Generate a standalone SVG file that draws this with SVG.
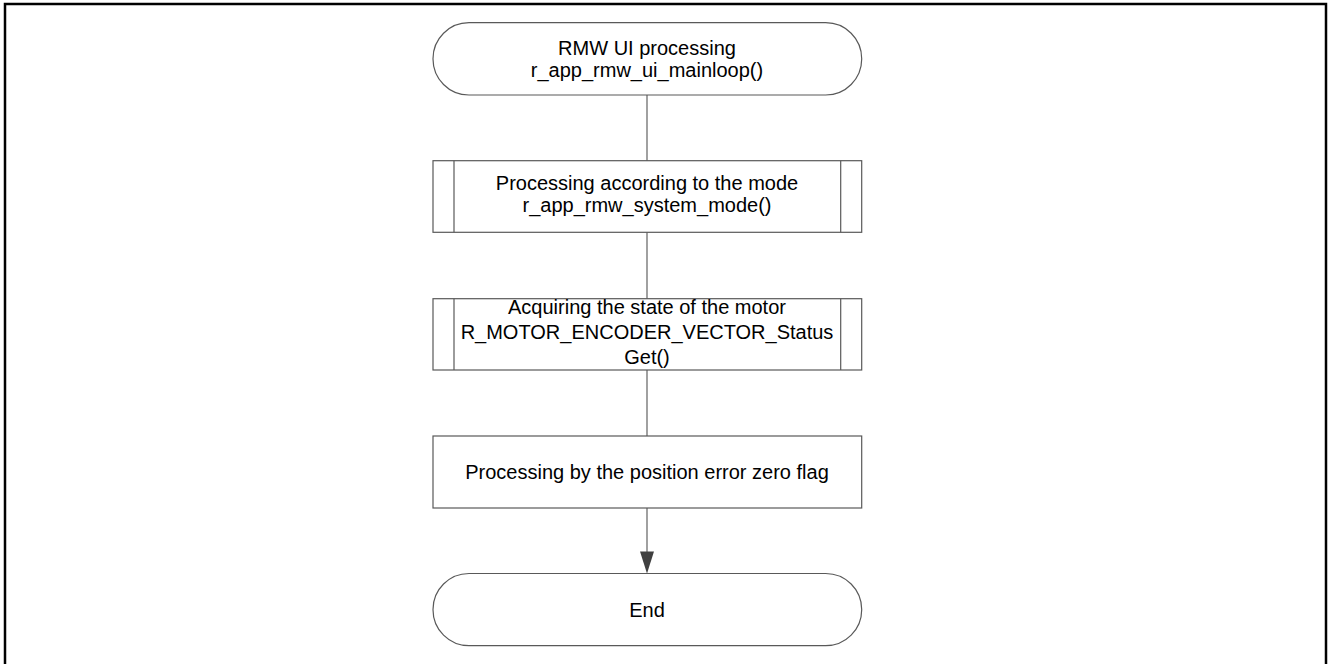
<svg xmlns="http://www.w3.org/2000/svg" width="1328" height="664" viewBox="0 0 1328 664">
<style>
.shape{fill:#fff;stroke:#595959;stroke-width:1.2}
.conn{stroke:#6e6e6e;stroke-width:1.3;fill:none}
text{font-family:"Liberation Sans",Arial,sans-serif;font-size:20px;fill:#000;text-anchor:middle}
</style>
<defs>
<marker id="arr" markerUnits="userSpaceOnUse" markerWidth="14" markerHeight="22" refX="7" refY="22" orient="auto-start-reverse" viewBox="0 0 14 22">
<path d="M0,0 L14,0 L7,22 Z" fill="#404040" transform="rotate(0)"/>
</marker>
</defs>
<rect x="5" y="4" width="1321" height="672" fill="#fff" stroke="#000" stroke-width="2.5"/>
<g id="connectors">
<line class="conn" x1="647" y1="95" x2="647" y2="161"/>
<line class="conn" x1="647" y1="232" x2="647" y2="299"/>
<line class="conn" x1="647" y1="370" x2="647" y2="436"/>
<line class="conn" x1="647" y1="508" x2="647" y2="552"/>
<path d="M640,551.5 L654,551.5 L647,573.5 Z" fill="#404040"/>
</g>
<g id="start">
<rect class="shape" x="433" y="22.7" width="428.7" height="72.3" rx="36" ry="36"/>
<text x="647" y="55">RMW UI processing</text>
<text x="647" y="77">r_app_rmw_ui_mainloop()</text>
</g>
<g id="mode">
<rect class="shape" x="433" y="160.7" width="428.7" height="71.6"/>
<line class="shape" x1="454" y1="160.7" x2="454" y2="232.3"/>
<line class="shape" x1="840.7" y1="160.7" x2="840.7" y2="232.3"/>
<text x="647" y="190">Processing according to the mode</text>
<text x="647" y="212">r_app_rmw_system_mode()</text>
</g>
<g id="status">
<rect class="shape" x="433" y="298.7" width="428.7" height="71.3"/>
<line class="shape" x1="454" y1="298.7" x2="454" y2="370"/>
<line class="shape" x1="840.7" y1="298.7" x2="840.7" y2="370"/>
<text x="647" y="314">Acquiring the state of the motor</text>
<text x="647" y="339">R_MOTOR_ENCODER_VECTOR_Status</text>
<text x="647" y="364">Get()</text>
</g>
<g id="flag">
<rect class="shape" x="433" y="436" width="428.7" height="72"/>
<text x="647" y="479">Processing by the position error zero flag</text>
</g>
<g id="end">
<rect class="shape" x="433" y="573.5" width="428.7" height="72.2" rx="36" ry="36"/>
<text x="647" y="617">End</text>
</g>
</svg>
